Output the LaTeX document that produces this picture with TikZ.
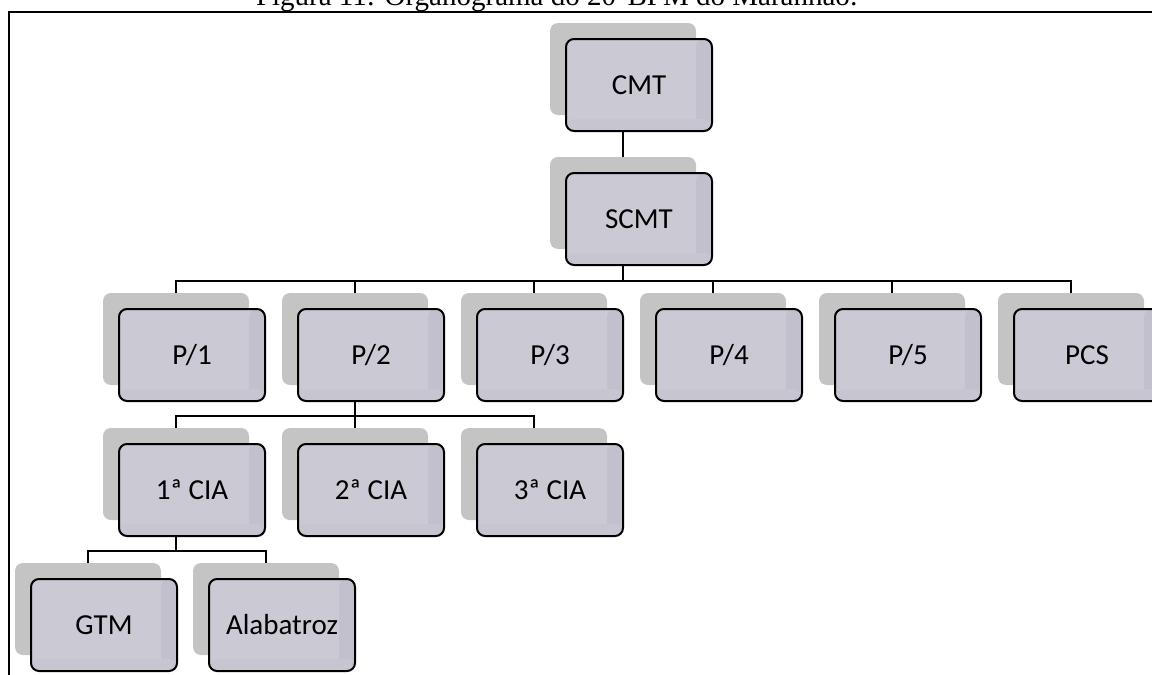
\documentclass[tikz,border=0pt]{standalone}
\usepackage{fontspec}
\setmainfont{Liberation Serif}
\newfontfamily\boxfont{Carlito}
\usetikzlibrary{calc}
\usetikzlibrary{shadows}
\usetikzlibrary{backgrounds}

\definecolor{boxfill}{HTML}{CAC9D4}
\definecolor{boxdark}{HTML}{C1C0CC}
\definecolor{shadowfill}{HTML}{C4C4C4}

\tikzset{
  orgbox/.style={draw=black, line width=1pt, rounded corners=4pt, fill=boxfill,
    minimum width=73pt, minimum height=46pt, inner sep=0pt,
    font=\boxfont\fontsize{14.5}{16}\selectfont,
    path picture={
      \fill[boxdark] ([xshift=-8pt]path picture bounding box.north east) rectangle (path picture bounding box.south east);
      \fill[boxdark!50!boxfill] (path picture bounding box.south west) rectangle ([yshift=6pt]path picture bounding box.south east);
    },
    general shadow={fill=shadowfill, shadow xshift=-8pt, shadow yshift=8pt}},
  link/.style={draw=black, line width=1pt}
}

\begin{document}
\begin{tikzpicture}[x=0.5pt, y=-0.5pt]
      \useasboundingbox (0,0) rectangle (1152,675);

      % title and frame
      \node[anchor=base, inner sep=0pt, font=\fontsize{14.5}{17}\selectfont] (title) at (557,5) {Figura 11: Organograma do 20°BPM do Maranhão:};
      \draw[line width=1.2pt] (9,680) -- (9,12) -- (1160,12);

      \node[orgbox] (cmt) at (639,85) {CMT};
      \node[orgbox] (scmt) at (639,219) {SCMT};

      \node[orgbox] (p1) at (192,355) {P/1};
      \node[orgbox] (p2) at (371,355) {P/2};
      \node[orgbox] (p3) at (550,355) {P/3};
      \node[orgbox] (p4) at (729,355) {P/4};
      \node[orgbox] (p5) at (908,355) {P/5};
      \node[orgbox] (pcs) at (1087,355) {PCS};

      \node[orgbox] (cia1) at (192,490) {1ª CIA};
      \node[orgbox] (cia2) at (371,490) {2ª CIA};
      \node[orgbox] (cia3) at (550,490) {3ª CIA};

      \node[orgbox] (gtm) at (104,625) {GTM};
      \node[orgbox] (alab) at (282,625) {Alabatroz};

      \coordinate (bus1) at (0,281);
      \coordinate (bus2) at (0,416);
      \coordinate (bus3) at (0,551);

      \begin{scope}[on background layer]
      \draw[link] ([xshift=-8pt]cmt.south) -- ([xshift=-8pt]scmt.north);

      \draw[link] ([xshift=-8pt]scmt.south) |- ([xshift=-8pt]p1.north |- bus1) -- ([xshift=-8pt]p1.north);
      \draw[link] ([xshift=-8pt]scmt.south) |- ([xshift=-8pt]p2.north |- bus1) -- ([xshift=-8pt]p2.north);
      \draw[link] ([xshift=-8pt]scmt.south) |- ([xshift=-8pt]p3.north |- bus1) -- ([xshift=-8pt]p3.north);
      \draw[link] ([xshift=-8pt]scmt.south) |- ([xshift=-8pt]p4.north |- bus1) -- ([xshift=-8pt]p4.north);
      \draw[link] ([xshift=-8pt]scmt.south) |- ([xshift=-8pt]p5.north |- bus1) -- ([xshift=-8pt]p5.north);
      \draw[link] ([xshift=-8pt]scmt.south) |- ([xshift=-8pt]pcs.north |- bus1) -- ([xshift=-8pt]pcs.north);

      \draw[link] ([xshift=-8pt]p2.south) |- ([xshift=-8pt]cia1.north |- bus2) -- ([xshift=-8pt]cia1.north);
      \draw[link] ([xshift=-8pt]p2.south) |- ([xshift=-8pt]cia2.north |- bus2) -- ([xshift=-8pt]cia2.north);
      \draw[link] ([xshift=-8pt]p2.south) |- ([xshift=-8pt]cia3.north |- bus2) -- ([xshift=-8pt]cia3.north);

      \draw[link] ([xshift=-8pt]cia1.south) |- ([xshift=-8pt]gtm.north |- bus3) -- ([xshift=-8pt]gtm.north);
      \draw[link] ([xshift=-8pt]cia1.south) |- ([xshift=-8pt]alab.north |- bus3) -- ([xshift=-8pt]alab.north);
      \end{scope}
    \end{tikzpicture}
\end{document}
